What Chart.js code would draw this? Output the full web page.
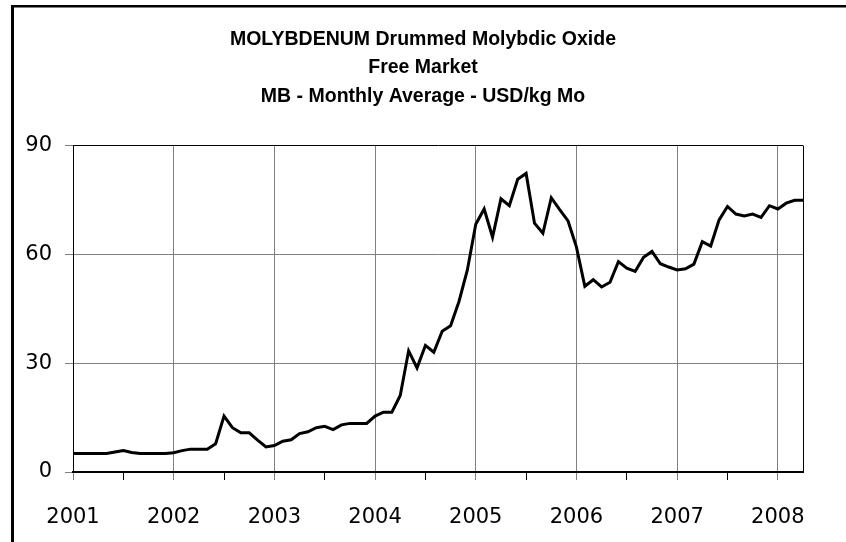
<!DOCTYPE html>
<html>
<head>
<meta charset="utf-8">
<script src="https://cdn.jsdelivr.net/npm/chart.js@4.4.1/dist/chart.umd.min.js"></script>
<style>
  html, body { margin: 0; padding: 0; background: #fff; }
  #chart { display: block; }
</style>
</head>
<body>
<canvas id="chart" width="846" height="542"></canvas>
<script>
// monthly averages, USD/kg Mo
var prices2001 = [5.1, 5.1, 5.1, 5.1, 5.1, 5.5, 5.9, 5.4, 5.1, 5.1, 5.1, 5.1];
var prices2002 = [5.3, 5.9, 6.3, 6.3, 6.3, 7.8, 15.4, 12.2, 10.8, 10.8, 8.8, 6.9];
var prices2003 = [7.3, 8.5, 8.9, 10.6, 11.1, 12.2, 12.6, 11.7, 13.0, 13.4, 13.4, 13.4];
var prices2004 = [15.4, 16.5, 16.5, 21.1, 33.4, 28.7, 34.9, 33.0, 38.8, 40.3, 47.0, 55.7];
var prices2005 = [68.3, 72.5, 64.7, 75.3, 73.4, 80.7, 82.3, 68.6, 65.8, 75.6, 72.3, 69.2];
var prices2006 = [62.0, 51.2, 53.0, 51.0, 52.3, 58.0, 56.2, 55.3, 59.2, 60.8, 57.4, 56.5];
var prices2007 = [55.7, 56.0, 57.3, 63.5, 62.3, 69.5, 73.2, 71.1, 70.6, 71.1, 70.2, 73.4];
var prices2008 = [72.5, 74.1, 74.9, 74.9];

var firstYear = 2001;
var valueTicks = [0, 30, 60, 90];
var titleLines = [
  "MOLYBDENUM Drummed Molybdic Oxide",
  "Free Market",
  "MB - Monthly Average - USD/kg Mo"
];

var prices = [].concat(prices2001, prices2002, prices2003, prices2004,
  prices2005, prices2006, prices2007, prices2008);
var points = prices.map(function(p, i) {
  return { x: i, y: p };
});
var lastMonth = prices.length - 1;

// half-year ticks, plus the last month for the right edge
var monthTicks = [];
for (var m = 0; m < lastMonth; m += 6) monthTicks.push(m);
monthTicks.push(lastMonth);

var numFont = "'DejaVu Sans', Verdana, sans-serif";

// thick black frame on the left and top of the picture
var framePlugin = {
  id: "frame",
  afterDraw: function(chart) {
    var ctx = chart.ctx;
    ctx.save();
    ctx.fillStyle = "#000";
    ctx.fillRect(11, 5, 3, 537);
    ctx.fillRect(11, 5, 835, 2.5);
    ctx.restore();
  }
};

new Chart(document.getElementById("chart").getContext("2d"), {
  type: "line",
  data: {
    datasets: [{
      data: points,
      borderColor: "#000",
      borderWidth: 3,
      pointRadius: 0,
      tension: 0,
      fill: false
    }]
  },
  options: {
    responsive: false,
    animation: false,
    layout: { padding: 0 },
    plugins: {
      legend: { display: false },
      tooltip: { enabled: false },
      title: {
        display: true,
        text: titleLines,
        color: "#000",
        font: { family: "'Liberation Sans', Arial, sans-serif", size: 19.5, weight: "bold", lineHeight: 28.5 / 19.5 },
        padding: { top: 25, bottom: 35 }
      }
    },
    scales: {
      x: {
        type: "linear",
        min: 0,
        max: lastMonth,
        border: { color: "#000", width: 2 },
        grid: {
          color: function(c) {
            var v = c.tick.value;
            if (v === 0 || v === lastMonth) return "#000";
            if (v % 12 === 0) return "#808080";
            return "rgba(0,0,0,0)";
          },
          tickColor: function(c) {
            var v = c.tick.value;
            if (v === lastMonth) return "rgba(0,0,0,0)";
            return v % 12 === 0 ? "#808080" : "#000";
          },
          tickLength: 8,
          lineWidth: 1
        },
        afterBuildTicks: function(axis) {
          axis.ticks = monthTicks.map(function(v) { return { value: v }; });
        },
        afterFit: function(axis) {
          axis.height = 70;
        },
        ticks: {
          autoSkip: false,
          maxRotation: 0,
          padding: 25,
          color: "#000",
          font: { family: numFont, size: 21 },
          callback: function(v) {
            return v % 12 === 0 ? String(firstYear + v / 12) : "";
          }
        }
      },
      y: {
        min: 0,
        max: 90,
        border: { color: "#000", width: 1 },
        grid: {
          color: function(c) {
            return c.tick.value === 90 ? "#000" : "#808080";
          },
          tickColor: "#808080",
          tickLength: 8,
          lineWidth: 1
        },
        afterBuildTicks: function(axis) {
          axis.ticks = valueTicks.map(function(v) { return { value: v }; });
        },
        afterFit: function(axis) {
          axis.width = 73;
        },
        ticks: {
          padding: 13,
          color: "#000",
          font: { family: numFont, size: 21 }
        }
      },
      // empty strip on the right so the title stays centred on the page
      yRight: {
        position: "right",
        min: 0,
        max: 90,
        grid: { display: false },
        border: { display: false },
        ticks: { display: false },
        afterFit: function(axis) {
          axis.width = 43;
        }
      }
    }
  },
  plugins: [framePlugin]
});
</script>
</body>
</html>
